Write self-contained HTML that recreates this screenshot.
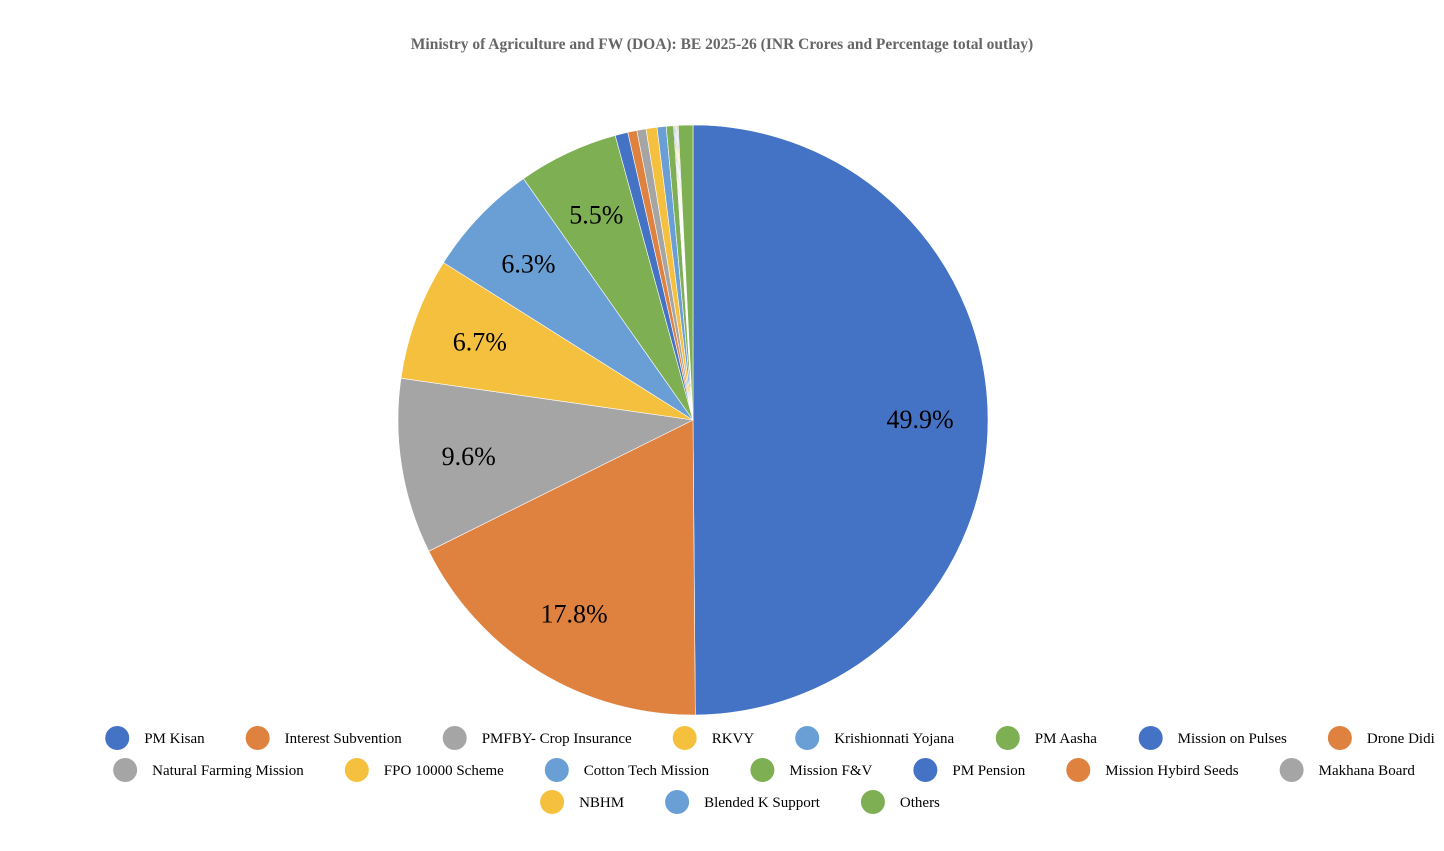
<!DOCTYPE html>
<html><head><meta charset="utf-8"><style>
body{margin:0;background:#fff;width:1444px;height:846px;overflow:hidden;font-family:"Liberation Serif",serif}
</style></head><body>
<svg width="1444" height="846" id="chart">
<text x="722" y="49" text-anchor="middle" font-size="15.5" font-weight="bold" fill="#666">Ministry of Agriculture and FW (DOA): BE 2025-26 (INR Crores and Percentage total outlay)</text>
<g id="slices"></g><g id="labels"></g><g id="legend"></g>
</svg>
<script>
const categories=["PM Kisan","Interest Subvention","PMFBY- Crop Insurance","RKVY","Krishionnati Yojana","PM Aasha","Mission on Pulses","Drone Didi","Natural Farming Mission","FPO 10000 Scheme","Cotton Tech Mission","Mission F&V","PM Pension","Mission Hybird Seeds","Makhana Board","NBHM","Blended K Support","Others"];
const values=[49.9,17.8,9.6,6.7,6.3,5.5,0.7,0.5,0.5,0.6,0.5,0.4,0.05,0.05,0.05,0.05,0.05,0.8];
const printedLabels=["49.9%","17.8%","9.6%","6.7%","6.3%","5.5%"];
const palette=["#4472c4","#e0823f","#a5a5a5","#f5c03e","#6a9fd5","#7eaf53"];
const legendRows=[[0,1,2,3,4,5,6,7],[8,9,10,11,12,13,14],[15,16,17]];
const cx=693,cy=420,r=295,NS="http://www.w3.org/2000/svg";
const total=values.reduce((a,b)=>a+b,0);
const sl=document.getElementById('slices'),lb=document.getElementById('labels'),lg=document.getElementById('legend');
function pt(a,rr){return [cx+rr*Math.sin(a),cy-rr*Math.cos(a)];}
let a0=0;
values.forEach((v,i)=>{
 const a1=a0+v/total*2*Math.PI;
 const [x0,y0]=pt(a0,r),[x1,y1]=pt(a1,r);
 const p=document.createElementNS(NS,'path');
 p.setAttribute('d',`M${cx},${cy}L${x0},${y0}A${r},${r} 0 ${a1-a0>Math.PI?1:0} 1 ${x1},${y1}Z`);
 p.setAttribute('fill',palette[i%6]);p.setAttribute('stroke','#fff');p.setAttribute('stroke-width','0.6');
 
 
 sl.appendChild(p);
 if(i<printedLabels.length){
  const [lx,ly]=pt((a0+a1)/2,r*0.77);
  const t=document.createElementNS(NS,'text');
  t.setAttribute('x',lx);t.setAttribute('y',ly+9);t.setAttribute('text-anchor','middle');t.setAttribute('font-size','26');
  t.textContent=printedLabels[i];
  
  
  lb.appendChild(t);
 }
 a0=a1;
});
const c=document.createElement('canvas').getContext('2d');c.font='15px "Liberation Serif"';
legendRows.forEach((row,ri)=>{
 const items=row.map(i=>({i,w:27+c.measureText(categories[i]).width}));
 const gap=41;const tw=items.reduce((s,it)=>s+it.w,0)+gap*(items.length-1);
 let x=722-tw/2;const y=738+ri*32;
 items.forEach(it=>{
  const g=document.createElementNS(NS,'g');
  
  
  const ci=document.createElementNS(NS,'circle');
  ci.setAttribute('cx',x+12);ci.setAttribute('cy',y);ci.setAttribute('r',12);ci.setAttribute('fill',palette[it.i%6]);
  const t=document.createElementNS(NS,'text');
  t.setAttribute('x',x+39);t.setAttribute('y',y+5);t.setAttribute('font-size','15');
  t.textContent=categories[it.i];
  g.appendChild(ci);g.appendChild(t);lg.appendChild(g);
  x+=it.w+12+gap;
 });
});
</script>
</body></html>
